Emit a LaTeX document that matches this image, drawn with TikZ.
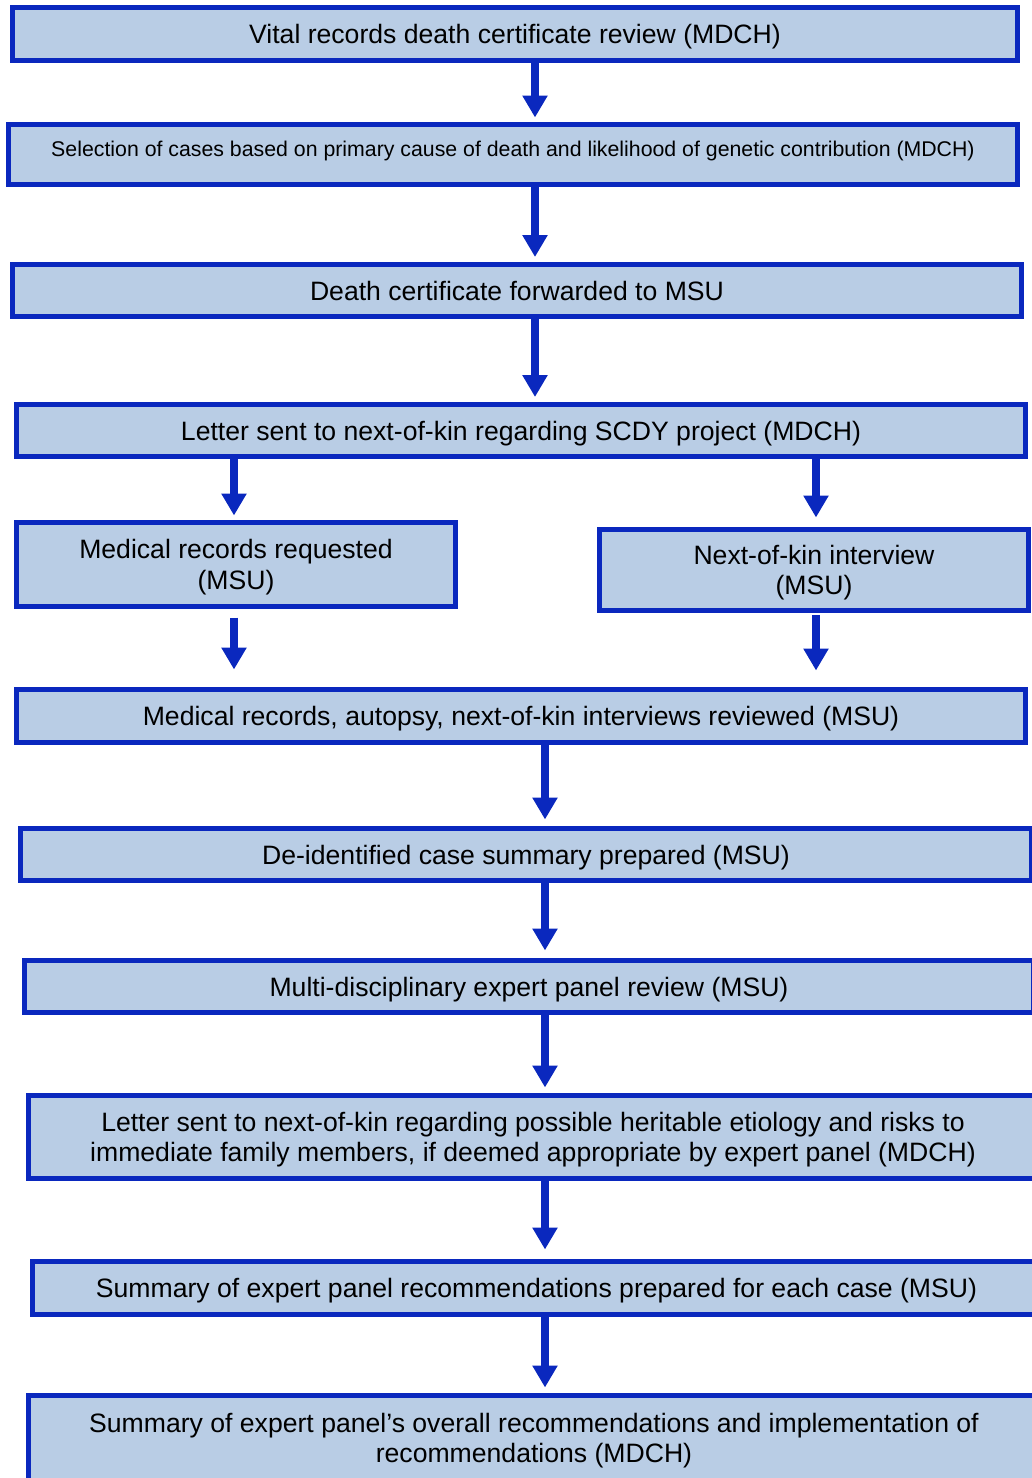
\documentclass[tikz,border=0pt]{standalone}
\usepackage{fontspec}
\setmainfont{Liberation Sans}
\usetikzlibrary{arrows.meta}
\definecolor{boxblue}{RGB}{10,40,190}
\definecolor{boxfill}{RGB}{185,205,229}
\tikzset{
  stage/.style={draw=boxblue, fill=boxfill, line width=5pt, inner sep=0pt, align=center,
    text depth=0pt, font=\fontsize{26.6}{30.5}\selectfont},
  flow/.style={draw=boxblue, line width=8pt, -{Triangle[width=24pt,length=22pt]}}
}
\begin{document}
\begin{tikzpicture}[x=1pt,y=-1pt]
\useasboundingbox (0,0) rectangle (1032,1478);
\coordinate (colA) at (535,0);
\coordinate (colL) at (234,0);
\coordinate (colR) at (816,0);
\coordinate (colB) at (545,0);

\node(vital) at (515,34) [stage, minimum width=1005pt, minimum height=53pt]{Vital records death certificate review (MDCH)};
\node(select) at (513,154.5) [stage, minimum width=1009pt, minimum height=60pt, font=\fontsize{21.3}{25}\selectfont, text height=15.5pt, text depth=12.5pt]{Selection of cases based on primary cause of death and likelihood of genetic contribution (MDCH)};
\node(fwd) at (517,290.5) [stage, minimum width=1009pt, minimum height=52pt]{Death certificate forwarded to MSU};
\node(letter) at (521,430.5) [stage, minimum width=1009pt, minimum height=52pt]{Letter sent to next-of-kin regarding SCDY project (MDCH)};
\node(medreq) at (236,564.5) [stage, minimum width=439pt, minimum height=84pt]{Medical records requested\\(MSU)};
\node(nokint) at (814,570) [stage, minimum width=429pt, minimum height=81pt]{Next-of-kin interview\\(MSU)};
\node(review) at (521,716) [stage, minimum width=1009pt, minimum height=53pt]{Medical records, autopsy, next-of-kin interviews reviewed (MSU)};
\node(summ) at (526,854.5) [stage, minimum width=1011pt, minimum height=52pt]{De-identified case summary prepared (MSU)};
\node(panel) at (529,986.5) [stage, minimum width=1009pt, minimum height=52pt]{Multi-disciplinary expert panel review (MSU)};
\node(letter2) at (533,1137) [stage, minimum width=1009pt, minimum height=83pt]{Letter sent to next-of-kin regarding possible heritable etiology and risks to\\immediate family members, if deemed appropriate by expert panel (MDCH)};
\node(recs) at (536.5,1288) [stage, minimum width=1009pt, minimum height=53pt]{Summary of expert panel recommendations prepared for each case (MSU)};
\node(overall) at (534,1438) [stage, minimum width=1011pt, minimum height=85pt]{Summary of expert panel’s overall recommendations and implementation of\\recommendations (MDCH)};

\draw [flow,shorten >=4.5pt] (vital.south -| colA) -- (select.north -| colA);
\draw [flow,shorten >=5pt] (select.south -| colA) -- (fwd.north -| colA);
\draw [flow,shorten >=5pt] (fwd.south -| colA) -- (letter.north -| colA);
\draw [flow,shorten >=4.5pt] (letter.south -| colL) -- (medreq.north -| colL);
\draw [flow,shorten >=9.5pt] (letter.south -| colR) -- (nokint.north -| colR);
\draw [flow,shorten <=8.5pt,shorten >=17.5pt] (medreq.south -| colL) -- (review.north -| colL);
\draw [flow,shorten <=2pt,shorten >=16.5pt] (nokint.south -| colR) -- (review.north -| colR);
\draw [flow,shorten >=6.5pt] (review.south -| colB) -- (summ.north -| colB);
\draw [flow,shorten >=7.5pt] (summ.south -| colB) -- (panel.north -| colB);
\draw [flow,shorten >=5.5pt] (panel.south -| colB) -- (letter2.north -| colB);
\draw [flow,shorten >=9.5pt] (letter2.south -| colB) -- (recs.north -| colB);
\draw [flow,shorten >=5.5pt] (recs.south -| colB) -- (overall.north -| colB);

\end{tikzpicture}
\end{document}
